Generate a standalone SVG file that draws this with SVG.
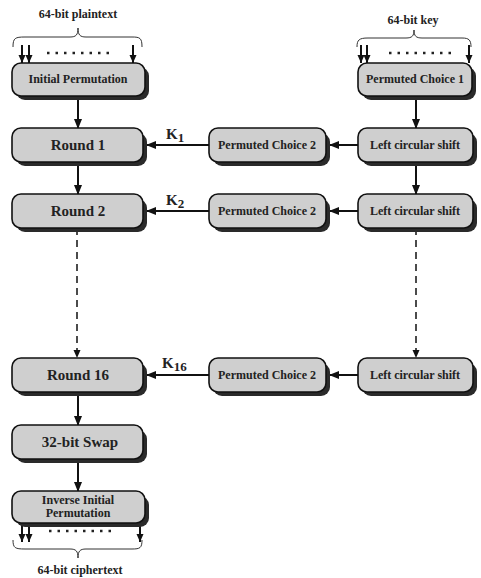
<svg xmlns="http://www.w3.org/2000/svg" width="481" height="578" viewBox="0 0 481 578">
<defs>
<marker id="ah" markerWidth="10" markerHeight="10" refX="9" refY="5" orient="auto" markerUnits="userSpaceOnUse">
<path d="M0,1 L10,5 L0,9 Z" fill="#111"/>
</marker>
<marker id="ahs" markerWidth="8" markerHeight="8" refX="8" refY="4" orient="auto" markerUnits="userSpaceOnUse">
<path d="M0,0.5 L8,4 L0,7.5 Z" fill="#111"/>
</marker>
</defs>
<style>
.sh{fill:#2a2a2a}
.bx{fill:#cfcfcf;stroke:#111;stroke-width:1.6}
.t{font-family:"Liberation Serif","DejaVu Serif",serif;font-weight:bold;fill:#222;text-anchor:middle}
.big{font-size:15px}
.sm{font-size:12px}
.lb{font-size:12px}
.k{font-family:"Liberation Serif","DejaVu Serif",serif;font-weight:bold;fill:#222;font-size:15px}
.ln{stroke:#111;stroke-width:2;fill:none}
.dl{stroke:#111;stroke-width:1.5;fill:none;stroke-dasharray:7,5}
.br{stroke:#333;stroke-width:1;fill:none}
.dots{stroke:#222;stroke-width:2.5;stroke-dasharray:2.5,6;fill:none}
</style>
<rect width="481" height="578" fill="#fff"/>

<g id="connectors">
<line class="ln" x1="22" y1="45" x2="22" y2="63" stroke-width="1.5" marker-end="url(#ahs)"/>
<line class="ln" x1="29" y1="45" x2="29" y2="63" stroke-width="1.5" marker-end="url(#ahs)"/>
<line class="ln" x1="133" y1="45" x2="133" y2="63" stroke-width="1.5" marker-end="url(#ahs)"/>
<line class="dots" x1="47" y1="53" x2="115" y2="53"/>
<line class="ln" x1="361" y1="45" x2="361" y2="63" stroke-width="1.5" marker-end="url(#ahs)"/>
<line class="ln" x1="367" y1="45" x2="367" y2="63" stroke-width="1.5" marker-end="url(#ahs)"/>
<line class="ln" x1="469" y1="45" x2="469" y2="63" stroke-width="1.5" marker-end="url(#ahs)"/>
<line class="dots" x1="389" y1="53" x2="455" y2="53"/>
<line class="ln" x1="78" y1="96" x2="78" y2="128" marker-end="url(#ah)"/>
<line class="ln" x1="78" y1="162" x2="78" y2="194" marker-end="url(#ah)"/>
<line class="dl" x1="77" y1="228" x2="77" y2="358" marker-end="url(#ahs)"/>
<line class="ln" x1="78" y1="392" x2="78" y2="425" marker-end="url(#ah)"/>
<line class="ln" x1="78" y1="459" x2="78" y2="491" marker-end="url(#ah)"/>
<line class="ln" x1="416" y1="96" x2="416" y2="128" marker-end="url(#ah)"/>
<line class="ln" x1="416" y1="162" x2="416" y2="194" marker-end="url(#ah)"/>
<line class="dl" x1="416" y1="228" x2="416" y2="358" marker-end="url(#ahs)"/>
<line class="ln" x1="358" y1="145" x2="330" y2="145" marker-end="url(#ah)"/>
<line class="ln" x1="209" y1="145" x2="147" y2="145" marker-end="url(#ah)"/>
<line class="ln" x1="358" y1="211" x2="330" y2="211" marker-end="url(#ah)"/>
<line class="ln" x1="209" y1="211" x2="147" y2="211" marker-end="url(#ah)"/>
<line class="ln" x1="358" y1="375" x2="330" y2="375" marker-end="url(#ah)"/>
<line class="ln" x1="209" y1="375" x2="147" y2="375" marker-end="url(#ah)"/>
<line class="ln" x1="22" y1="523" x2="22" y2="542" stroke-width="1.5" marker-end="url(#ahs)"/>
<line class="ln" x1="29" y1="523" x2="29" y2="542" stroke-width="1.5" marker-end="url(#ahs)"/>
<line class="ln" x1="140" y1="523" x2="140" y2="542" stroke-width="1.5" marker-end="url(#ahs)"/>
<line class="dots" x1="49" y1="531" x2="117" y2="531"/>
</g>

<g id="braces">
<path class="br" d="M13,47 C13,38 15,37 25,37 L70,37 C76,37 78,35 78,28 C78,35 80,37 86,37 L132,37 C140,37 142,38 142,47"/>
<path class="br" d="M357,47 C357,40 359,38 368,38 L406,38 C412,38 414,36 414,30 C414,36 416,38 422,38 L462,38 C469,38 471,40 471,47"/>
<path class="br" d="M13,540 C13,548 15,549 25,549 L70,549 C76,549 78,551 78,558 C78,551 80,549 86,549 L132,549 C140,549 142,548 142,540"/>
</g>

<g id="labels">
<text class="t lb" x="78" y="18">64-bit plaintext</text>
<text class="t lb" x="413" y="24">64-bit key</text>
<text class="t lb" x="80" y="574">64-bit ciphertext</text>
<text class="k" x="166" y="139">K<tspan font-size="13" dy="3">1</tspan></text>
<text class="k" x="166" y="205">K<tspan font-size="13" dy="3">2</tspan></text>
<text class="k" x="162" y="368">K<tspan font-size="13" dy="3">16</tspan></text>
</g>

<g id="initial-permutation">
<rect class="sh" x="16" y="67" width="133" height="33" rx="9"/>
<rect class="bx" x="12" y="63" width="133" height="33" rx="9"/>
<text class="t sm" x="78" y="83">Initial Permutation</text>
</g>
<g id="round1">
<rect class="sh" x="16" y="133" width="131" height="33" rx="9"/>
<rect class="bx" x="12" y="128" width="131" height="34" rx="9"/>
<text class="t big" x="78" y="150">Round 1</text>
</g>
<g id="round2">
<rect class="sh" x="16" y="199" width="131" height="33" rx="9"/>
<rect class="bx" x="12" y="194" width="131" height="34" rx="9"/>
<text class="t big" x="78" y="216">Round 2</text>
</g>
<g id="round16">
<rect class="sh" x="16" y="363" width="131" height="33" rx="9"/>
<rect class="bx" x="12" y="358" width="131" height="34" rx="9"/>
<text class="t big" x="78" y="380">Round 16</text>
</g>
<g id="swap">
<rect class="sh" x="16" y="430" width="131" height="33" rx="9"/>
<rect class="bx" x="12" y="425" width="131" height="34" rx="9"/>
<text class="t big" x="80" y="447">32-bit Swap</text>
</g>
<g id="inverse-initial-permutation">
<rect class="sh" x="16" y="496" width="133" height="31" rx="9"/>
<rect class="bx" x="12" y="491" width="133" height="32" rx="9"/>
<text class="t sm" x="78" y="504">Inverse Initial</text>
<text class="t sm" x="78" y="517">Permutation</text>
</g>

<g id="pc1">
<rect class="sh" x="362" y="67" width="114" height="33" rx="9"/>
<rect class="bx" x="358" y="63" width="114" height="33" rx="9"/>
<text class="t sm" x="415" y="83">Permuted Choice 1</text>
</g>
<g id="lcs1">
<rect class="sh" x="362" y="133" width="115" height="33" rx="9"/>
<rect class="bx" x="358" y="128" width="115" height="34" rx="9"/>
<text class="t sm" x="415" y="149">Left circular shift</text>
</g>
<g id="lcs2">
<rect class="sh" x="362" y="199" width="115" height="33" rx="9"/>
<rect class="bx" x="358" y="194" width="115" height="34" rx="9"/>
<text class="t sm" x="415" y="215">Left circular shift</text>
</g>
<g id="lcs16">
<rect class="sh" x="362" y="363" width="115" height="33" rx="9"/>
<rect class="bx" x="358" y="358" width="115" height="34" rx="9"/>
<text class="t sm" x="415" y="379">Left circular shift</text>
</g>
<g id="pc2-1">
<rect class="sh" x="213" y="133" width="117" height="33" rx="9"/>
<rect class="bx" x="209" y="128" width="117" height="34" rx="9"/>
<text class="t sm" x="267" y="149">Permuted Choice 2</text>
</g>
<g id="pc2-2">
<rect class="sh" x="213" y="199" width="117" height="33" rx="9"/>
<rect class="bx" x="209" y="194" width="117" height="34" rx="9"/>
<text class="t sm" x="267" y="215">Permuted Choice 2</text>
</g>
<g id="pc2-16">
<rect class="sh" x="213" y="363" width="117" height="33" rx="9"/>
<rect class="bx" x="209" y="358" width="117" height="34" rx="9"/>
<text class="t sm" x="267" y="379">Permuted Choice 2</text>
</g>
</svg>
